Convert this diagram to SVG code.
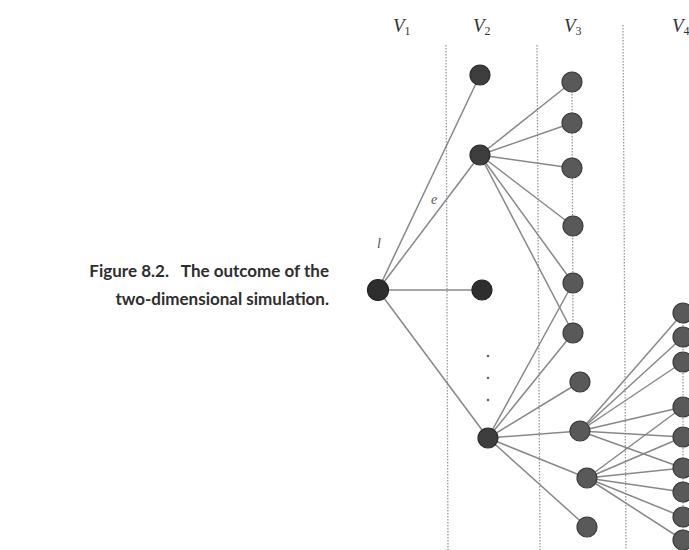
<svg xmlns="http://www.w3.org/2000/svg" width="689" height="550" viewBox="0 0 689 550">
<style>
.cap{font-family:Lato,"Liberation Sans",sans-serif;font-weight:bold;font-size:17px;fill:#2e2e2e}
.lab{font-family:"Liberation Serif",serif;font-style:italic;font-size:19px;fill:#333}
.sub{font-size:12px;font-style:normal}
.small{font-family:"Liberation Serif",serif;font-style:italic;font-size:14px;fill:#555}
.sep{stroke:#999;stroke-width:1.3;stroke-dasharray:1.5 1.5;fill:none}
.edge{stroke:#888;stroke-width:1.5;fill:none}
.n1{fill:#2e2e2e;stroke:#222;stroke-width:1.2}
.n2{fill:#3e3e3e;stroke:#2a2a2a;stroke-width:1.2}
.n3{fill:#595959;stroke:#3a3a3a;stroke-width:1.2}
</style>
<rect width="689" height="550" fill="#fff"/>
<g id="caption">
<text class="cap" x="329" y="277" text-anchor="end">Figure 8.2.<tspan dx="13">The outcome of the</tspan></text>
<text class="cap" x="329" y="305" text-anchor="end">two-dimensional simulation.</text>
</g>
<g id="labels">
<text class="lab" x="393" y="32">V<tspan class="sub" dy="3">1</tspan></text>
<text class="lab" x="473" y="32">V<tspan class="sub" dy="3">2</tspan></text>
<text class="lab" x="564" y="32">V<tspan class="sub" dy="3">3</tspan></text>
<text class="lab" x="672" y="32">V<tspan class="sub" dy="3">4</tspan></text>
<text class="small" x="431" y="204">e</text>
<text class="small" x="377" y="248">l</text>
</g>
<g id="separators">
<line class="sep" x1="446" y1="45" x2="448" y2="550"/>
<line class="sep" x1="537" y1="45" x2="540" y2="550"/>
<line class="sep" x1="623" y1="25" x2="626" y2="550"/>
<line class="sep" x1="572" y1="82" x2="573" y2="333"/>
<line class="sep" x1="683" y1="313" x2="683" y2="540"/>
</g>
<g id="connectors">
<line class="edge" x1="378" y1="290" x2="480" y2="75"/>
<line class="edge" x1="378" y1="290" x2="480" y2="155"/>
<line class="edge" x1="378" y1="290" x2="482" y2="290"/>
<line class="edge" x1="378" y1="290" x2="488" y2="438"/>
<line class="edge" x1="480" y1="155" x2="572" y2="82"/>
<line class="edge" x1="480" y1="155" x2="572" y2="123"/>
<line class="edge" x1="480" y1="155" x2="572" y2="168"/>
<line class="edge" x1="480" y1="155" x2="573" y2="226"/>
<line class="edge" x1="480" y1="155" x2="573" y2="283"/>
<line class="edge" x1="480" y1="155" x2="573" y2="333"/>
<line class="edge" x1="488" y1="438" x2="573" y2="283"/>
<line class="edge" x1="488" y1="438" x2="573" y2="333"/>
<line class="edge" x1="488" y1="438" x2="580" y2="382"/>
<line class="edge" x1="488" y1="438" x2="580" y2="431"/>
<line class="edge" x1="488" y1="438" x2="587" y2="478"/>
<line class="edge" x1="488" y1="438" x2="587" y2="527"/>
<line class="edge" x1="580" y1="431" x2="683" y2="313"/>
<line class="edge" x1="580" y1="431" x2="683" y2="337"/>
<line class="edge" x1="580" y1="431" x2="683" y2="362"/>
<line class="edge" x1="580" y1="431" x2="683" y2="407"/>
<line class="edge" x1="580" y1="431" x2="683" y2="437"/>
<line class="edge" x1="580" y1="431" x2="683" y2="468"/>
<line class="edge" x1="587" y1="478" x2="683" y2="407"/>
<line class="edge" x1="587" y1="478" x2="683" y2="437"/>
<line class="edge" x1="587" y1="478" x2="683" y2="468"/>
<line class="edge" x1="587" y1="478" x2="683" y2="492"/>
<line class="edge" x1="587" y1="478" x2="683" y2="517"/>
<line class="edge" x1="587" y1="478" x2="683" y2="540"/>
</g>
<g id="ellipsis" fill="#666">
<circle cx="488" cy="356" r="1.3"/>
<circle cx="488" cy="378" r="1.3"/>
<circle cx="488" cy="400" r="1.3"/>
</g>
<g id="node-root"><circle class="n1" cx="378" cy="290" r="10.5"/></g>
<g id="node-v2a"><circle class="n2" cx="480" cy="75" r="10"/></g>
<g id="node-v2b"><circle class="n2" cx="480" cy="155" r="10"/></g>
<g id="node-v2c"><circle class="n1" cx="482" cy="290" r="10"/></g>
<g id="node-v2d"><circle class="n2" cx="488" cy="438" r="10"/></g>
<g id="node-v3a"><circle class="n3" cx="572" cy="82" r="10"/></g>
<g id="node-v3b"><circle class="n3" cx="572" cy="123" r="10"/></g>
<g id="node-v3c"><circle class="n3" cx="572" cy="168" r="10"/></g>
<g id="node-v3d"><circle class="n3" cx="573" cy="226" r="10"/></g>
<g id="node-v3e"><circle class="n3" cx="573" cy="283" r="10"/></g>
<g id="node-v3f"><circle class="n3" cx="573" cy="333" r="10"/></g>
<g id="node-v3g"><circle class="n3" cx="580" cy="382" r="10"/></g>
<g id="node-v3h"><circle class="n3" cx="580" cy="431" r="10"/></g>
<g id="node-v3i"><circle class="n3" cx="587" cy="478" r="10"/></g>
<g id="node-v3j"><circle class="n3" cx="587" cy="527" r="10"/></g>
<g id="node-v4a"><circle class="n3" cx="683" cy="313" r="10"/></g>
<g id="node-v4b"><circle class="n3" cx="683" cy="337" r="10"/></g>
<g id="node-v4c"><circle class="n3" cx="683" cy="362" r="10"/></g>
<g id="node-v4d"><circle class="n3" cx="683" cy="407" r="10"/></g>
<g id="node-v4e"><circle class="n3" cx="683" cy="437" r="10"/></g>
<g id="node-v4f"><circle class="n3" cx="683" cy="468" r="10"/></g>
<g id="node-v4g"><circle class="n3" cx="683" cy="492" r="10"/></g>
<g id="node-v4h"><circle class="n3" cx="683" cy="517" r="10"/></g>
<g id="node-v4i"><circle class="n3" cx="683" cy="540" r="10"/></g>
</svg>
